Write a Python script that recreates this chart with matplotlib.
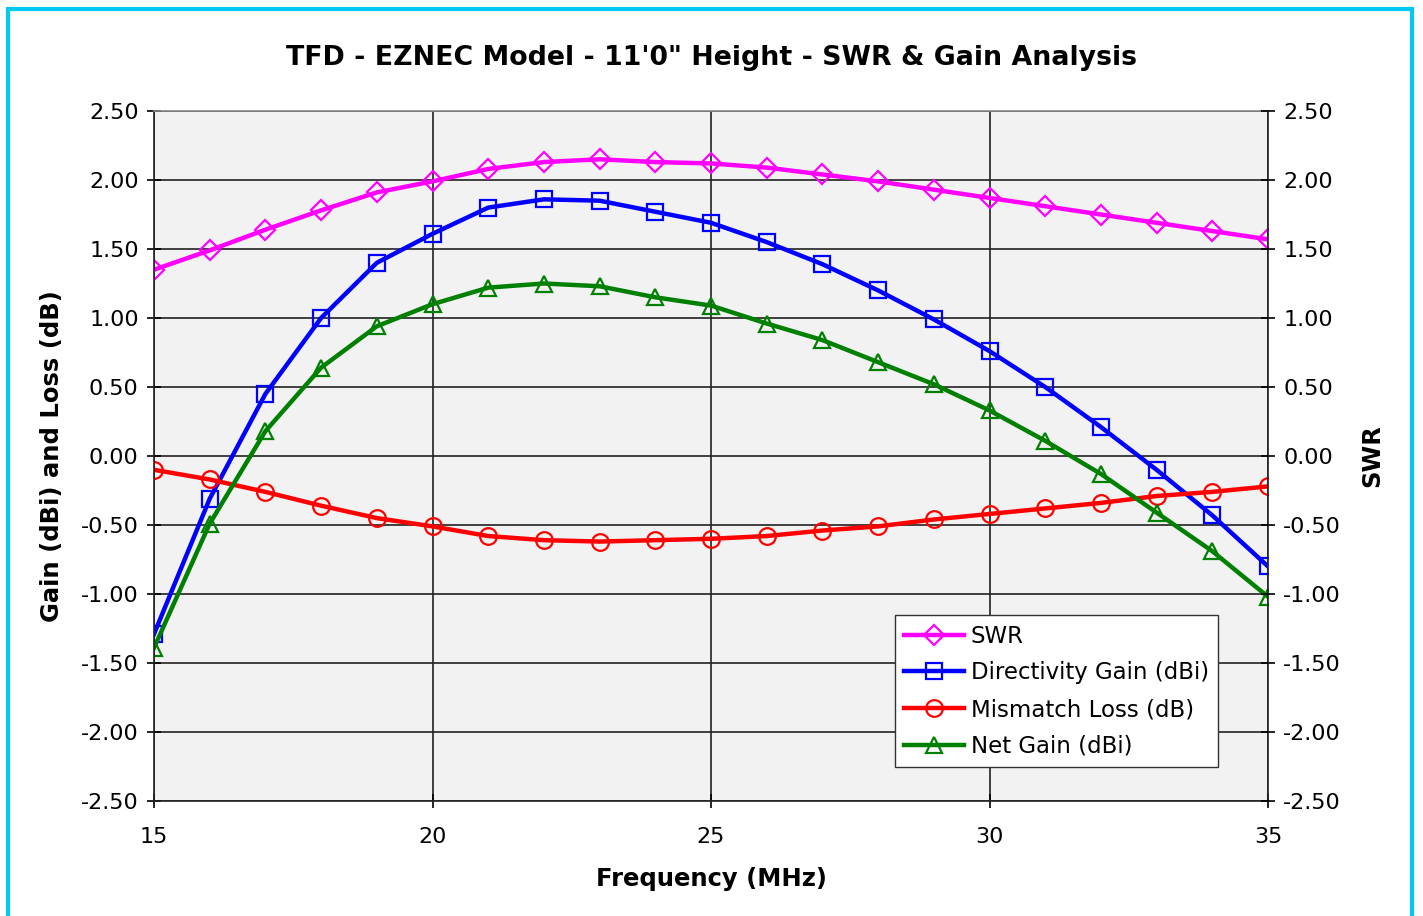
import numpy as np
import matplotlib
matplotlib.use('Agg')
from matplotlib import pyplot as plt
from matplotlib.patches import Rectangle

# data
freq = list(range(15, 36))
swr = [1.35, 1.49, 1.64, 1.78, 1.91, 1.99, 2.08, 2.13, 2.15, 2.13, 2.12,
       2.09, 2.04, 1.99, 1.93, 1.87, 1.81, 1.75, 1.69, 1.63, 1.57]
dir_gain = [-1.29, -0.31, 0.45, 1.00, 1.40, 1.61, 1.80, 1.86, 1.85, 1.77, 1.69,
            1.55, 1.39, 1.20, 0.99, 0.76, 0.50, 0.21, -0.10, -0.43, -0.80]
mis_loss = [-0.10, -0.17, -0.26, -0.36, -0.45, -0.51, -0.58, -0.61, -0.62, -0.61, -0.60,
            -0.58, -0.54, -0.51, -0.46, -0.42, -0.38, -0.34, -0.29, -0.26, -0.22]
net_gain = [-1.39, -0.49, 0.18, 0.64, 0.94, 1.10, 1.22, 1.25, 1.23, 1.15, 1.09,
            0.96, 0.84, 0.68, 0.52, 0.33, 0.11, -0.13, -0.41, -0.69, -1.02]

yticks = np.arange(-2.5, 2.51, 0.5)

fig = plt.figure(figsize=(14.23, 9.16), dpi=100)
ax = fig.add_axes([154/1423, 1-801/916, (1268-154)/1423, (801-111)/916])
ax.set_facecolor('#F2F2F2')

ax.plot(freq, swr, color='#FF00FF', lw=3.2, marker='D', ms=10, mfc='none', mew=1.6, label='SWR')
ax.plot(freq, dir_gain, color='#0000FF', lw=3.2, marker='s', ms=11, mfc='none', mew=1.6, label='Directivity Gain (dBi)')
ax.plot(freq, mis_loss, color='#FF0000', lw=3.2, marker='o', ms=12, mfc='none', mew=1.6, label='Mismatch Loss (dB)')
ax.plot(freq, net_gain, color='#008000', lw=3.2, marker='^', ms=12, mfc='none', mew=1.6, label='Net Gain (dBi)')

ax.set_xlim(15, 35)
ax.set_ylim(-2.5, 2.5)
ax.set_xticks([15, 20, 25, 30, 35])
ax.set_yticks(yticks)
ax.set_yticklabels(['%.2f' % v for v in yticks])
ax.grid(True, color='#222222', lw=1.2)
ax.set_axisbelow(True)
for s in ax.spines.values():
    s.set_color('#222222')
    s.set_linewidth(1.2)
ax.spines['top'].set_color('#888888')
ax.tick_params(axis='both', direction='inout', length=10, width=1.2, labelsize=16, pad=6)
ax.tick_params(axis='x', pad=14)

ax2 = ax.twinx()
ax2.set_ylim(-2.5, 2.5)
ax2.set_yticks(yticks)
ax2.set_yticklabels(['%.2f' % v for v in yticks])
ax2.tick_params(axis='y', direction='inout', length=10, width=1.2, labelsize=16, pad=6)
for s in ax2.spines.values():
    s.set_visible(False)

fig.text(0.5, 1-58/916, 'TFD - EZNEC Model - 11\'0" Height - SWR & Gain Analysis',
         ha='center', va='center', fontsize=19.3, fontweight='bold')
ax.set_xlabel('Frequency (MHz)', fontsize=17.5, fontweight='bold', labelpad=14)
ax.set_ylabel('Gain (dBi) and Loss (dB)', fontsize=17.5, fontweight='bold', labelpad=12)
ax2.set_ylabel('SWR', fontsize=17.5, fontweight='bold', labelpad=14)

leg = ax.legend(loc='lower right', bbox_to_anchor=((1218-154)/1114, (801-767)/690),
                fontsize=16.5, frameon=True, fancybox=False, framealpha=1,
                edgecolor='#333333', handlelength=2.6, borderpad=0.4,
                labelspacing=0.6, handletextpad=0.3, borderaxespad=0)
leg.get_frame().set_linewidth(1.0)

# cyan frame round the chart
fig.patches.append(Rectangle((8/1423, -0.05), (1412-8)/1423, 1.05-9/916,
                             transform=fig.transFigure, fill=False,
                             edgecolor='#00C8F0', lw=3))

fig.savefig('out.png', dpi=100)
